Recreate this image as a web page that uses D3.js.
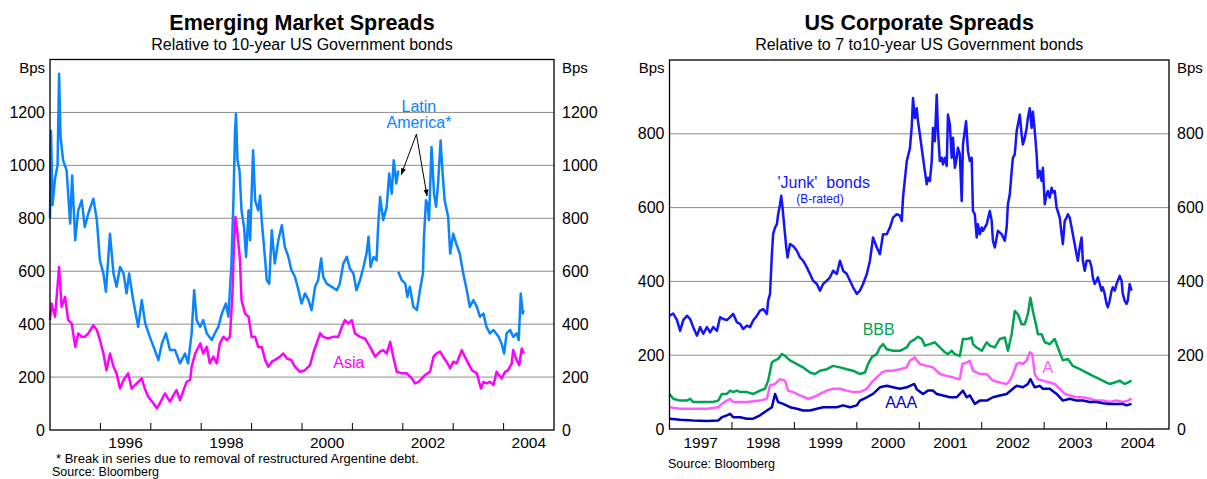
<!DOCTYPE html>
<html>
<head>
<meta charset="utf-8">
<script src="https://cdn.jsdelivr.net/npm/d3@7"></script>
<style>
  body { margin: 0; background: #fff; }
  svg { display: block; font-family: "Liberation Sans", Arial, sans-serif; }
</style>
</head>
<body>
<div id="chart"></div>
<script>
// ---- data (decimal year, basis points) ----
const latamPre = [
  [1995.00,800],[1995.02,1130],[1995.05,850],[1995.10,950],[1995.15,1000],[1995.18,1346],[1995.21,1107],
  [1995.26,1019],[1995.33,981],[1995.40,780],[1995.44,962],[1995.50,717],[1995.56,830],[1995.63,868],
  [1995.69,767],[1995.76,818],[1995.86,874],[1995.93,792],[1995.99,641],[1996.06,591],[1996.11,522],
  [1996.19,742],[1996.26,591],[1996.32,541],[1996.39,616],[1996.46,591],[1996.52,516],[1996.57,591],
  [1996.65,491],[1996.75,390],[1996.82,491],[1996.89,403],[1996.98,352],[1997.08,302],[1997.15,264],
  [1997.22,327],[1997.30,365],[1997.38,302],[1997.48,302],[1997.58,252],[1997.68,289],[1997.74,252],
  [1997.81,365],[1997.86,528],[1997.91,415],[1997.98,390],[1998.04,415],[1998.11,365],[1998.21,340],
  [1998.27,365],[1998.34,390],[1998.41,440],[1998.49,478],[1998.54,428],[1998.60,629],[1998.64,868],
  [1998.67,1120],[1998.69,1195],[1998.72,1019],[1998.76,981],[1998.80,830],[1998.85,767],[1998.89,654],
  [1998.94,830],[1998.97,717],[1999.03,1057],[1999.07,868],[1999.13,830],[1999.17,886],[1999.20,793],
  [1999.27,641],[1999.30,566],[1999.35,553],[1999.40,755],[1999.46,629],[1999.53,717],[1999.60,774],
  [1999.66,692],[1999.73,654],[1999.79,604],[1999.86,579],[1999.93,528],[1999.99,478],[2000.06,516],
  [2000.13,491],[2000.19,453],[2000.26,541],[2000.32,566],[2000.38,648],[2000.42,579],[2000.49,553],
  [2000.59,541],[2000.69,528],[2000.75,553],[2000.82,629],[2000.89,654],[2000.95,610],[2001.02,591],
  [2001.08,528],[2001.15,566],[2001.22,616],[2001.28,667],[2001.32,730],[2001.36,616],[2001.42,654],
  [2001.48,641],[2001.51,767],[2001.55,880],[2001.61,793],[2001.68,843],[2001.73,969],[2001.78,893],
  [2001.82,1019],[2001.87,931],[2001.91,981]
];
const latamPost = [
  [2001.91,598],[2001.98,566],[2002.05,553],[2002.09,503],[2002.14,541],[2002.21,465],[2002.28,453],
  [2002.34,528],[2002.40,591],[2002.42,730],[2002.46,868],[2002.49,855],[2002.52,793],[2002.57,1069],
  [2002.62,893],[2002.66,843],[2002.70,931],[2002.75,1094],[2002.79,969],[2002.83,868],[2002.90,805],
  [2002.94,667],[2003.00,742],[2003.06,704],[2003.13,667],[2003.20,591],[2003.27,528],[2003.33,465],
  [2003.40,491],[2003.47,465],[2003.53,428],[2003.60,440],[2003.66,390],[2003.73,365],[2003.80,378],
  [2003.90,352],[2003.96,327],[2004.01,289],[2004.06,365],[2004.13,378],[2004.19,352],[2004.26,365],
  [2004.30,340],[2004.34,516],[2004.38,440],[2004.40,453]
];
const asia = [
  [1995.00,415],[1995.03,478],[1995.10,428],[1995.18,616],[1995.23,465],[1995.30,503],[1995.36,415],
  [1995.43,403],[1995.50,314],[1995.56,365],[1995.63,352],[1995.69,352],[1995.76,365],[1995.86,396],
  [1995.93,378],[1995.99,340],[1996.06,289],[1996.12,226],[1996.19,289],[1996.26,239],[1996.32,214],
  [1996.39,157],[1996.46,189],[1996.55,214],[1996.62,157],[1996.72,176],[1996.82,195],[1996.88,157],
  [1996.95,126],[1997.05,101],[1997.12,82],[1997.18,101],[1997.28,138],[1997.38,107],[1997.45,132],
  [1997.51,151],[1997.58,113],[1997.65,151],[1997.71,182],[1997.78,189],[1997.81,239],[1997.88,289],
  [1997.98,327],[1998.04,289],[1998.11,314],[1998.17,252],[1998.24,277],[1998.31,252],[1998.37,327],
  [1998.44,352],[1998.51,340],[1998.57,352],[1998.62,516],[1998.65,692],[1998.68,805],[1998.72,742],
  [1998.77,641],[1998.80,491],[1998.87,440],[1998.94,428],[1999.00,352],[1999.07,352],[1999.13,314],
  [1999.20,314],[1999.27,264],[1999.33,239],[1999.40,258],[1999.46,264],[1999.56,277],[1999.63,289],
  [1999.70,270],[1999.79,264],[1999.86,239],[1999.96,220],[2000.06,226],[2000.16,245],[2000.22,289],
  [2000.29,327],[2000.36,365],[2000.42,352],[2000.52,346],[2000.62,352],[2000.72,352],[2000.79,390],
  [2000.85,415],[2000.92,403],[2000.99,415],[2001.05,365],[2001.15,352],[2001.25,346],[2001.35,314],
  [2001.45,277],[2001.55,296],[2001.61,302],[2001.68,289],[2001.75,333],[2001.81,277],[2001.88,220],
  [2001.98,214],[2002.08,214],[2002.18,195],[2002.24,176],[2002.31,182],[2002.38,195],[2002.44,208],
  [2002.54,220],[2002.61,277],[2002.67,289],[2002.74,296],[2002.80,277],[2002.87,258],[2002.94,233],
  [2003.00,258],[2003.07,252],[2003.17,302],[2003.23,277],[2003.30,252],[2003.37,226],[2003.47,214],
  [2003.55,157],[2003.60,182],[2003.66,176],[2003.73,182],[2003.80,170],[2003.86,220],[2003.96,195],
  [2004.03,220],[2004.09,226],[2004.16,252],[2004.19,302],[2004.26,264],[2004.31,245],[2004.36,308],
  [2004.40,289]
];
const junk = [
  [1997.00,307],[1997.06,313],[1997.12,295],[1997.17,266],[1997.22,295],[1997.28,307],[1997.33,298],
  [1997.38,276],[1997.44,253],[1997.49,276],[1997.54,258],[1997.60,276],[1997.65,262],[1997.70,276],
  [1997.76,266],[1997.81,303],[1997.86,298],[1997.92,295],[1997.97,303],[1998.02,312],[1998.08,289],
  [1998.13,285],[1998.18,271],[1998.24,280],[1998.29,276],[1998.34,294],[1998.40,307],[1998.45,321],
  [1998.50,325],[1998.56,312],[1998.58,348],[1998.61,366],[1998.64,474],[1998.66,528],[1998.69,546],
  [1998.72,555],[1998.74,582],[1998.77,609],[1998.79,632],[1998.81,600],[1998.83,564],[1998.87,492],
  [1998.89,465],[1998.93,501],[1998.98,496],[1999.04,483],[1999.09,465],[1999.14,456],[1999.20,438],
  [1999.25,420],[1999.30,402],[1999.36,393],[1999.41,375],[1999.46,393],[1999.52,402],[1999.57,411],
  [1999.62,429],[1999.68,420],[1999.73,456],[1999.78,429],[1999.84,420],[1999.89,402],[1999.94,384],
  [2000.00,366],[2000.05,375],[2000.10,393],[2000.16,420],[2000.21,456],[2000.26,519],[2000.32,492],
  [2000.37,474],[2000.42,528],[2000.48,528],[2000.53,546],[2000.58,573],[2000.64,582],[2000.69,578],
  [2000.72,564],[2000.74,627],[2000.80,726],[2000.85,760],[2000.88,820],[2000.90,897],[2000.93,843],
  [2000.96,869],[2000.98,834],[2001.01,798],[2001.06,735],[2001.09,699],[2001.12,663],[2001.14,681],
  [2001.17,672],[2001.20,726],[2001.22,816],[2001.25,780],[2001.28,906],[2001.30,807],[2001.33,726],
  [2001.36,735],[2001.38,717],[2001.41,735],[2001.44,713],[2001.46,852],[2001.49,825],[2001.52,735],
  [2001.54,789],[2001.57,708],[2001.60,735],[2001.62,762],[2001.65,744],[2001.68,618],[2001.70,771],
  [2001.75,834],[2001.78,753],[2001.81,726],[2001.84,735],[2001.86,591],[2001.89,582],[2001.92,519],
  [2001.94,555],[2001.97,528],[2002.00,546],[2002.02,537],[2002.08,555],[2002.13,591],[2002.16,564],
  [2002.18,510],[2002.21,492],[2002.26,537],[2002.32,528],[2002.37,510],[2002.40,546],[2002.42,609],
  [2002.45,636],[2002.48,699],[2002.50,735],[2002.53,744],[2002.56,807],[2002.58,825],[2002.61,852],
  [2002.64,798],[2002.66,771],[2002.69,789],[2002.72,816],[2002.74,843],[2002.77,869],[2002.80,816],
  [2002.82,860],[2002.85,807],[2002.88,744],[2002.90,681],[2002.93,699],[2002.96,672],[2002.98,708],
  [2003.01,609],[2003.04,636],[2003.06,645],[2003.09,627],[2003.12,654],[2003.14,641],[2003.17,645],
  [2003.20,600],[2003.25,573],[2003.28,528],[2003.30,501],[2003.33,564],[2003.36,573],[2003.38,582],
  [2003.41,573],[2003.46,528],[2003.52,473],[2003.54,456],[2003.57,492],[2003.60,519],[2003.62,456],
  [2003.65,429],[2003.68,456],[2003.73,456],[2003.76,438],[2003.78,411],[2003.81,393],[2003.84,402],
  [2003.86,411],[2003.89,393],[2003.92,375],[2003.94,384],[2003.97,366],[2004.00,339],[2004.02,330],
  [2004.05,348],[2004.08,375],[2004.10,384],[2004.13,375],[2004.16,393],[2004.18,402],[2004.21,415],
  [2004.24,402],[2004.26,366],[2004.29,348],[2004.32,339],[2004.34,348],[2004.37,393],[2004.40,375]
];
const bbb = [
  [1997.00,95],[1997.06,82],[1997.17,77],[1997.28,77],[1997.33,82],[1997.38,73],[1997.49,73],
  [1997.60,73],[1997.70,73],[1997.78,77],[1997.84,95],[1997.92,95],[1997.97,104],[1998.02,100],
  [1998.08,104],[1998.13,100],[1998.24,100],[1998.34,95],[1998.45,104],[1998.53,109],[1998.58,131],
  [1998.64,181],[1998.69,186],[1998.74,190],[1998.80,203],[1998.85,198],[1998.93,186],[1999.04,176],
  [1999.14,167],[1999.25,153],[1999.33,149],[1999.41,158],[1999.52,162],[1999.62,171],[1999.73,167],
  [1999.84,162],[1999.94,158],[2000.05,149],[2000.13,153],[2000.18,176],[2000.24,195],[2000.32,203],
  [2000.37,221],[2000.42,230],[2000.48,216],[2000.58,212],[2000.69,212],[2000.80,221],[2000.85,235],
  [2000.90,240],[2000.98,250],[2001.04,244],[2001.09,226],[2001.17,230],[2001.25,235],[2001.33,221],
  [2001.41,208],[2001.46,203],[2001.52,212],[2001.57,203],[2001.65,198],[2001.70,244],[2001.78,244],
  [2001.84,248],[2001.86,230],[2001.92,221],[2002.00,212],[2002.08,235],[2002.13,226],[2002.21,221],
  [2002.29,244],[2002.37,248],[2002.42,212],[2002.48,257],[2002.53,320],[2002.58,311],[2002.64,284],
  [2002.69,284],[2002.74,311],[2002.78,356],[2002.82,320],[2002.88,275],[2002.90,257],[2002.96,257],
  [2003.01,235],[2003.09,230],[2003.17,244],[2003.22,221],[2003.30,186],[2003.38,190],[2003.46,171],
  [2003.57,162],[2003.68,153],[2003.78,144],[2003.89,135],[2004.00,126],[2004.05,122],[2004.13,126],
  [2004.21,131],[2004.29,122],[2004.34,126],[2004.40,131]
];
const ratedA = [
  [1997.00,59],[1997.17,55],[1997.38,55],[1997.60,55],[1997.78,59],[1997.84,68],[1997.92,77],
  [1997.97,82],[1998.02,73],[1998.24,73],[1998.45,77],[1998.56,82],[1998.61,118],[1998.69,122],
  [1998.77,135],[1998.85,131],[1998.90,104],[1998.98,100],[1999.09,91],[1999.22,82],[1999.30,86],
  [1999.41,95],[1999.52,104],[1999.62,109],[1999.73,109],[1999.84,104],[1999.94,100],[2000.05,100],
  [2000.16,109],[2000.24,127],[2000.32,140],[2000.40,153],[2000.48,158],[2000.58,158],[2000.69,162],
  [2000.80,167],[2000.85,185],[2000.93,194],[2001.01,176],[2001.12,171],[2001.22,167],[2001.33,149],
  [2001.44,144],[2001.54,140],[2001.65,135],[2001.69,176],[2001.76,180],[2001.81,185],[2001.86,158],
  [2001.97,149],[2002.08,149],[2002.18,131],[2002.29,126],[2002.40,122],[2002.45,131],[2002.50,149],
  [2002.56,176],[2002.61,180],[2002.66,176],[2002.72,185],[2002.77,208],[2002.81,203],[2002.85,149],
  [2002.90,135],[2002.98,131],[2003.09,126],[2003.17,122],[2003.25,109],[2003.33,95],[2003.41,91],
  [2003.52,86],[2003.62,86],[2003.73,82],[2003.84,77],[2003.94,77],[2004.05,73],[2004.16,77],
  [2004.26,73],[2004.34,77],[2004.40,82]
];
const aaa = [
  [1997.00,28],[1997.17,25],[1997.38,23],[1997.60,22],[1997.78,23],[1997.84,32],[1997.92,37],
  [1997.97,41],[1998.02,32],[1998.13,32],[1998.24,28],[1998.34,28],[1998.45,37],[1998.56,50],
  [1998.64,59],[1998.69,95],[1998.74,73],[1998.82,68],[1998.93,59],[1999.04,55],[1999.14,50],
  [1999.25,50],[1999.36,55],[1999.46,59],[1999.57,59],[1999.68,59],[1999.78,64],[1999.89,59],
  [2000.00,64],[2000.05,77],[2000.16,86],[2000.26,95],[2000.37,113],[2000.48,117],[2000.58,113],
  [2000.69,109],[2000.80,113],[2000.92,122],[2000.96,108],[2001.06,95],[2001.14,104],[2001.22,104],
  [2001.28,95],[2001.38,91],[2001.49,86],[2001.60,86],[2001.70,104],[2001.76,86],[2001.81,91],
  [2001.89,68],[2001.97,77],[2002.08,77],[2002.18,86],[2002.29,91],[2002.40,95],[2002.50,109],
  [2002.56,117],[2002.66,113],[2002.74,122],[2002.78,135],[2002.85,113],[2002.93,117],[2002.98,109],
  [2003.09,109],[2003.20,95],[2003.30,77],[2003.41,82],[2003.52,77],[2003.62,77],[2003.73,73],
  [2003.84,73],[2003.94,70],[2004.05,68],[2004.16,68],[2004.26,68],[2004.32,64],[2004.40,68]
];

const emYTicks = [0, 200, 400, 600, 800, 1000, 1200];
const emYearTicks = [1996, 1997, 1998, 1999, 2000, 2001, 2002, 2003, 2004];
const emYearLabels = [1996, 1998, 2000, 2002, 2004];
const usYTicks = [0, 200, 400, 600, 800];
const usYearTicks = [1998, 1999, 2000, 2001, 2002, 2003, 2004];
const usYearLabels = [1997, 1998, 1999, 2000, 2001, 2002, 2003, 2004];

const W = 1207, H = 479;
const svg = d3.select("#chart").append("svg")
  .attr("width", W).attr("height", H);

svg.append("defs").append("marker")
  .attr("id", "arrow")
  .attr("viewBox", "0 0 10 10")
  .attr("refX", 9).attr("refY", 5)
  .attr("markerWidth", 7).attr("markerHeight", 7)
  .attr("orient", "auto")
  .append("path").attr("d", "M0,1.5 L10,5 L0,8.5 Z").attr("fill", "#000");

// draws one panel frame, grid, ticks and labels; returns scales
function panel(cfg) {
  const x = d3.scaleLinear().domain(cfg.xDomain).range([cfg.left, cfg.right]);
  const y = d3.scaleLinear().domain(cfg.yDomain).range([cfg.bottom, cfg.top]);
  const g = svg.append("g");
  const cx = (cfg.left + cfg.right) / 2;

  g.append("text").attr("x", cx).attr("y", 30)
    .attr("text-anchor", "middle").attr("font-size", 21.5).attr("font-weight", "bold")
    .text(cfg.title);
  g.append("text").attr("x", cx).attr("y", 50)
    .attr("text-anchor", "middle").attr("font-size", 16)
    .text(cfg.subtitle);

  // grid
  g.selectAll(".grid").data(cfg.yTicks.filter(d => d > 0)).enter().append("line")
    .attr("x1", cfg.left).attr("x2", cfg.right)
    .attr("y1", d => y(d)).attr("y2", d => y(d))
    .attr("stroke", "#8c8c8c").attr("stroke-width", 1);

  // y labels both sides
  const yl = g.append("g").attr("font-size", 16);
  yl.selectAll(".l").data(cfg.yTicks).enter().append("text")
    .attr("x", cfg.left - 5).attr("y", d => y(d) + 5.5)
    .attr("text-anchor", "end").text(d => d);
  yl.selectAll(".r").data(cfg.yTicks).enter().append("text")
    .attr("x", cfg.right + 8).attr("y", d => y(d) + 5.5)
    .attr("text-anchor", "start").text(d => d);
  g.append("text").attr("x", cfg.left - 5).attr("y", cfg.top + 13)
    .attr("text-anchor", "end").attr("font-size", 15).text("Bps");
  g.append("text").attr("x", cfg.right + 8).attr("y", cfg.top + 13)
    .attr("text-anchor", "start").attr("font-size", 15).text("Bps");

  // x ticks (inward) and labels centred mid-year
  g.selectAll(".tick").data(cfg.yearTicks).enter().append("line")
    .attr("x1", d => x(d)).attr("x2", d => x(d))
    .attr("y1", cfg.bottom).attr("y2", cfg.bottom - 7)
    .attr("stroke", "#000").attr("stroke-width", 1);
  g.selectAll(".xl").data(cfg.yearLabels).enter().append("text")
    .attr("x", d => x(d + 0.5)).attr("y", 447.5)
    .attr("text-anchor", "middle").attr("font-size", 15.5).text(d => d);

  return { x, y, g, cfg };
}

function drawLine(p, data, color) {
  const line = d3.line().x(d => p.x(d[0])).y(d => p.y(d[1]));
  p.g.append("path").datum(data)
    .attr("d", line).attr("fill", "none")
    .attr("stroke", color).attr("stroke-width", 2.5)
    .attr("stroke-linejoin", "round");
}

function frame(p) {
  const c = p.cfg;
  p.g.append("rect")
    .attr("x", c.left).attr("y", c.top)
    .attr("width", c.right - c.left).attr("height", c.bottom - c.top)
    .attr("fill", "none").attr("stroke", "#000").attr("stroke-width", 1.3);
}

// ---- Emerging markets ----
const em = panel({
  title: "Emerging Market Spreads",
  subtitle: "Relative to 10-year US Government bonds",
  left: 50, right: 554, top: 59.5, bottom: 430,
  xDomain: [1995, 2005], yDomain: [0, 1400],
  yTicks: emYTicks, yearTicks: emYearTicks, yearLabels: emYearLabels
});
drawLine(em, asia, "#ff00ff");
drawLine(em, latamPre, "#0a84ff");
drawLine(em, latamPost, "#0a84ff");
frame(em);

em.g.append("text").attr("x", em.x(2002.32)).attr("y", 112)
  .attr("text-anchor", "middle").attr("font-size", 16).attr("fill", "#0a84ff").text("Latin");
em.g.append("text").attr("x", em.x(2002.32)).attr("y", 128)
  .attr("text-anchor", "middle").attr("font-size", 16).attr("fill", "#0a84ff").text("America*");
em.g.selectAll(".arr").data([[2001.97, 965], [2002.48, 885]]).enter().append("line")
  .attr("x1", em.x(2002.27)).attr("y1", em.y(1118))
  .attr("x2", d => em.x(d[0])).attr("y2", d => em.y(d[1]))
  .attr("stroke", "#000").attr("stroke-width", 1)
  .attr("marker-end", "url(#arrow)");
em.g.append("text").attr("x", em.x(2000.93)).attr("y", 368)
  .attr("text-anchor", "middle").attr("font-size", 16).attr("fill", "#ff00ff").text("Asia");
em.g.append("text").attr("x", 56).attr("y", 463).attr("font-size", 13)
  .text("* Break in series due to removal of restructured Argentine debt.");
em.g.append("text").attr("x", 52).attr("y", 476).attr("font-size", 12.5)
  .text("Source: Bloomberg");

// ---- US corporates ----
const us = panel({
  title: "US Corporate Spreads",
  subtitle: "Relative to 7 to10-year US Government bonds",
  left: 669.5, right: 1169, top: 60, bottom: 429,
  xDomain: [1997, 2005], yDomain: [0, 1000],
  yTicks: usYTicks, yearTicks: usYearTicks, yearLabels: usYearLabels
});
drawLine(us, junk, "#1414ff");
drawLine(us, bbb, "#00a352");
drawLine(us, ratedA, "#ff5cff");
drawLine(us, aaa, "#0000c0");
frame(us);

us.g.append("text").attr("x", us.x(1998.73)).attr("y", 188)
  .attr("font-size", 16).attr("fill", "#1414ff").attr("xml:space", "preserve")
  .style("white-space", "pre").text("'Junk'  bonds");
us.g.append("text").attr("x", us.x(1999.41)).attr("y", 203)
  .attr("text-anchor", "middle").attr("font-size", 12).attr("fill", "#1414ff").text("(B-rated)");
us.g.append("text").attr("x", us.x(2000.35)).attr("y", 335)
  .attr("text-anchor", "middle").attr("font-size", 16).attr("fill", "#00a352").text("BBB");
us.g.append("text").attr("x", us.x(2000.71)).attr("y", 408)
  .attr("text-anchor", "middle").attr("font-size", 16).attr("fill", "#0000c0").text("AAA");
us.g.append("text").attr("x", us.x(2003.06)).attr("y", 373)
  .attr("text-anchor", "middle").attr("font-size", 16).attr("fill", "#ff5cff").text("A");
us.g.append("text").attr("x", 668).attr("y", 468).attr("font-size", 12.5)
  .text("Source: Bloomberg");
</script>
</body>
</html>
